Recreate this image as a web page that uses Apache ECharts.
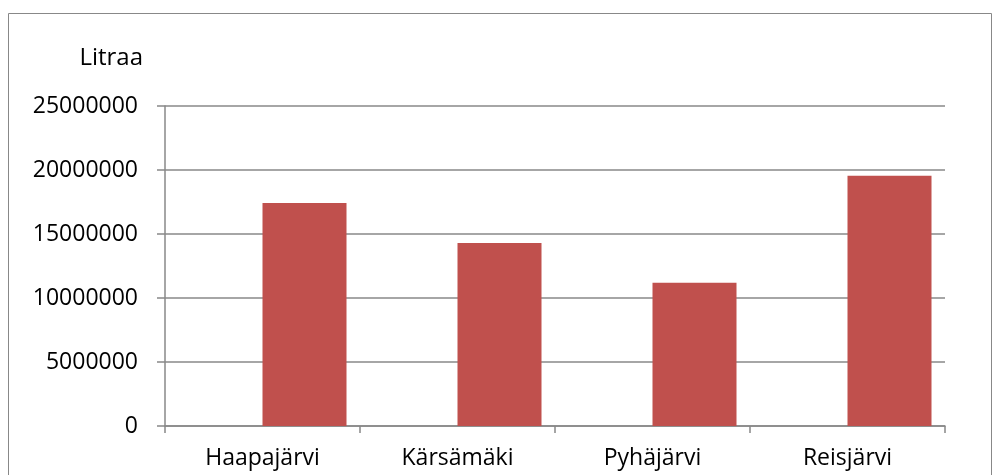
<!DOCTYPE html>
<html>
<head>
<meta charset="utf-8">
<script src="https://cdn.jsdelivr.net/npm/echarts@6/dist/echarts.min.js"></script>
<style>
  html, body { margin: 0; padding: 0; background: #fff; }
  #chart { width: 1000px; height: 475px; }
</style>
</head>
<body>
<div id="chart"></div>
<script>
// kunnat
var categories = ['Haapajärvi', 'Kärsämäki', 'Pyhäjärvi', 'Reisjärvi']
// tyhjä sarja (Excelin ensimmäinen sarja, ei arvoja)
var emptyValues = [null, null, null, null]
// litraa
var litraa = [17420000, 14300000, 11200000, 19550000]
var yTicks = { min: 0, max: 25000000, interval: 5000000 }

var chart = echarts.init(document.getElementById('chart'))
var font = "'Open Sans', 'Liberation Sans', sans-serif"

chart.setOption({
  animation: false,
  backgroundColor: '#fff',
  textStyle: { fontFamily: font },
  graphic: [{
    type: 'rect',
    shape: { x: 8.5, y: 13.5, width: 983, height: 520 },
    style: { fill: 'none', stroke: '#888', lineWidth: 1 },
    silent: true
  }],
  grid: {
    left: 165,
    right: 55,
    top: 106,
    bottom: 49
  },
  xAxis: {
    type: 'category',
    data: categories,
    axisLine: { lineStyle: { color: '#888', width: 1.5 } },
    axisTick: { show: true, length: 7, lineStyle: { color: '#888', width: 1.5 } },
    axisLabel: { color: '#000', fontSize: 23, margin: 21, fontFamily: font }
  },
  yAxis: {
    type: 'value',
    min: yTicks.min,
    max: yTicks.max,
    interval: yTicks.interval,
    name: 'Litraa',
    nameLocation: 'end',
    nameGap: 36,
    nameTextStyle: { color: '#000', fontSize: 24, align: 'right', padding: [0, 22, 0, 0], fontFamily: font },
    axisLine: { show: true, lineStyle: { color: '#888', width: 1.5 } },
    axisTick: { show: true, length: 8, lineStyle: { color: '#888', width: 1.5 } },
    splitLine: { lineStyle: { color: '#888', width: 1.5 } },
    axisLabel: {
      color: '#000',
      fontSize: 23,
      margin: 27,
      fontFamily: font,
      formatter: function (v) { return String(v) }
    }
  },
  series: [
    {
      name: 'tyhjä',
      type: 'bar',
      data: emptyValues,
      barWidth: 84,
      barGap: '0%',
      itemStyle: { color: '#4F81BD' }
    },
    {
      name: 'Litraa',
      type: 'bar',
      data: litraa,
      barWidth: 84,
      barGap: '0%',
      itemStyle: { color: '#C0504D' }
    }
  ]
})
</script>
</body>
</html>
